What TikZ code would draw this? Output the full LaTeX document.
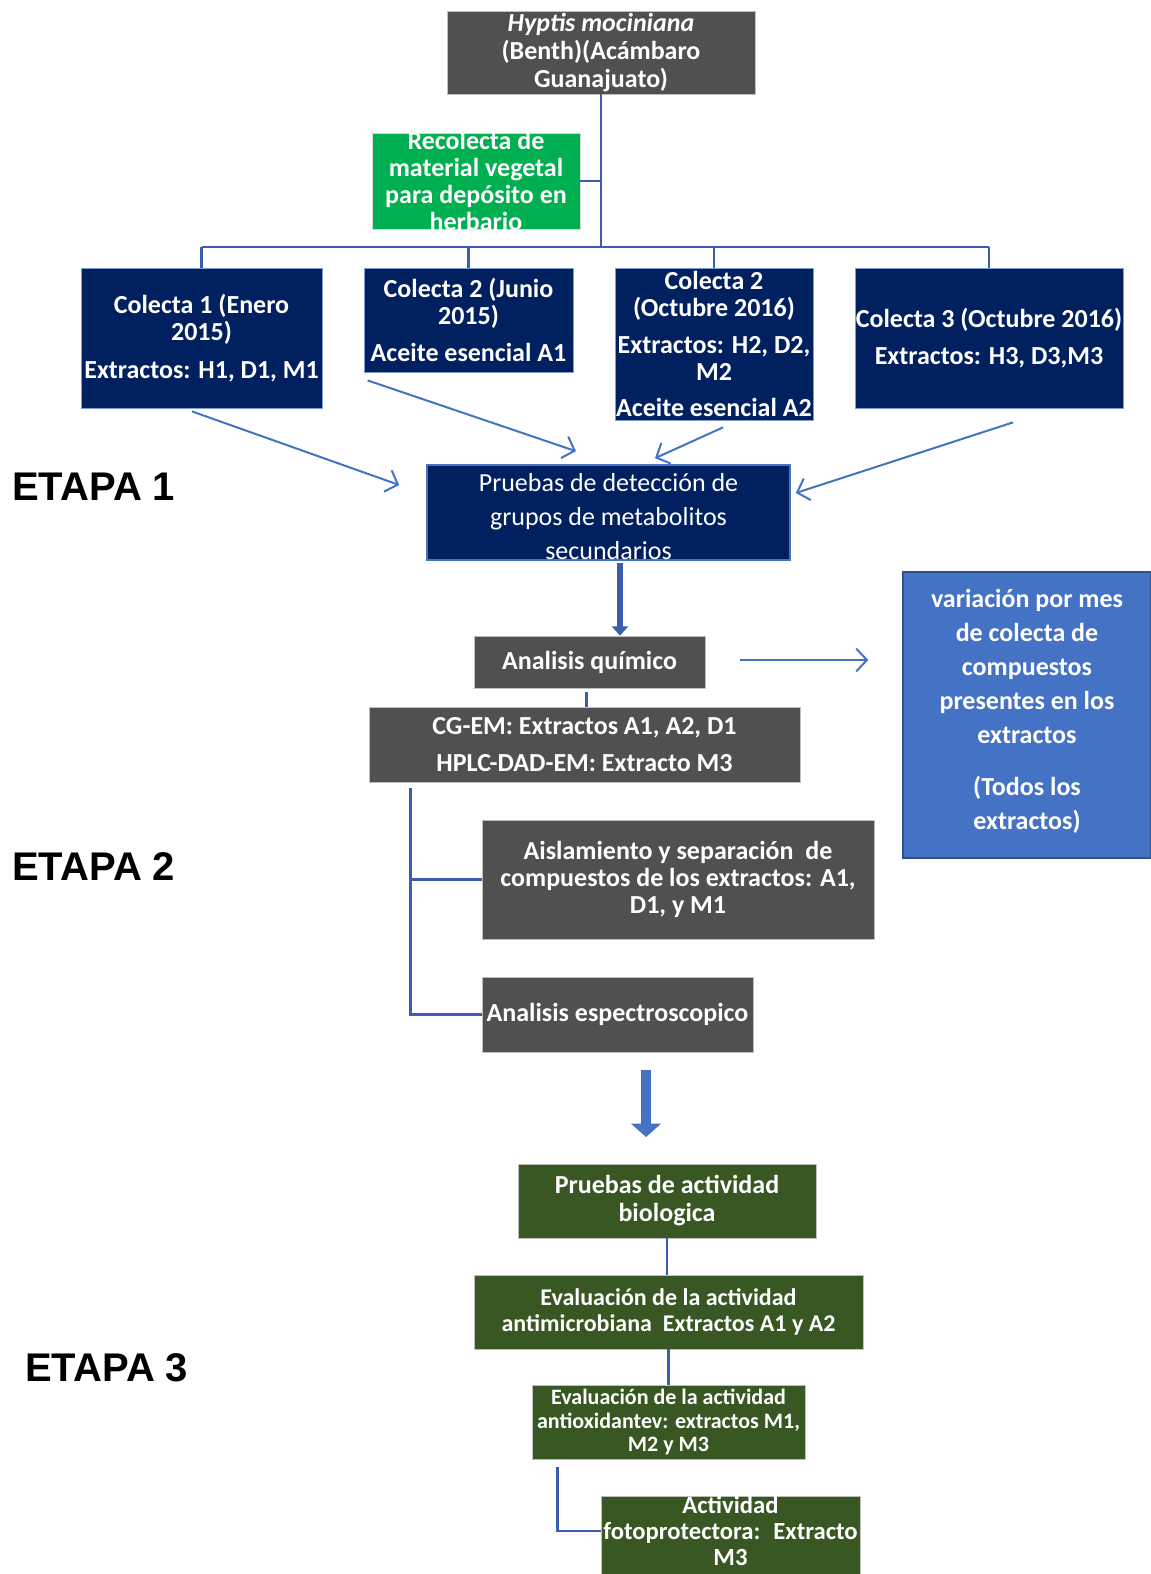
\documentclass[tikz,border=0pt]{standalone}
\usepackage{fontspec}
\setmainfont{Carlito}
\newfontfamily\arialf{Liberation Sans}
\usetikzlibrary{arrows.meta,calc}
\definecolor{gr}{HTML}{505050}
\definecolor{navy}{HTML}{002060}
\definecolor{bgreen}{HTML}{00B050}
\definecolor{dgreen}{HTML}{385723}
\definecolor{mblue}{HTML}{4472C4}
\definecolor{dblue}{HTML}{2F528F}
\definecolor{tblue}{HTML}{3A5DAE}
\newcommand\bx[7]{\pgfmathsetmacro\bxw{#4*0.75}\pgfmathsetmacro\bxh{#5*0.75}%
  \node[#6, minimum width=\bxw pt, minimum height=\bxh pt] (#1) at (#2,#3) {#7};}
\tikzset{
  base/.style={inner sep=0pt, align=center, text=white, font=\bfseries\fontsize{19.5}{20.25}\selectfont},
  graybox/.style={base, fill=gr, draw=black!25, line width=0.5pt},
  navybox/.style={base, fill=navy, draw=mblue!70, line width=0.6pt},
  greenbox/.style={base, fill=dgreen, draw=black!25, line width=0.5pt},
  tree/.style={draw=tblue, line width=2pt},
  thin arrow/.style={draw=mblue, line width=1.5pt, -{Straight Barb[length=8pt,width=17pt,line width=1.5pt]}},
  etapa/.style={anchor=west, inner sep=0pt, font=\arialf\bfseries\fontsize{30}{31}\selectfont}
}
\begin{document}
\begin{tikzpicture}[x=0.75pt,y=-0.75pt]
\useasboundingbox (0,0) rectangle (1151,1574);
% boxes
\bx{top}{601}{52.5}{308}{83}{graybox, font=\bfseries\fontsize{19.5}{21}\selectfont}{{\itshape Hyptis mociniana}\\(Benth)(Acámbaro\\Guanajuato)}
\bx{herb}{476}{181}{208}{96}{base, fill=bgreen, draw=black!15, line width=0.5pt}{}
\node[base] (herbt) at (herb) {Recolecta de\\material vegetal\\para depósito en\\herbario};
\bx{c1}{201.5}{338}{241}{140}{navybox}{Colecta 1 (Enero\\2015)\\[8pt]Extractos: H1, D1, M1}
\bx{c2}{468.5}{320}{209}{104}{navybox}{Colecta 2 (Junio\\2015)\\[8pt]Aceite esencial A1}
\bx{c3}{714}{344}{198}{152}{navybox}{}
\node[base] (c3t) at (c3) {Colecta 2\\(Octubre 2016)\\[7pt]Extractos: H2, D2,\\M2\\[7pt]Aceite esencial A2};
\bx{c4}{989}{338}{268}{140}{navybox}{Colecta 3 (Octubre 2016)\\[8pt]Extractos: H3, D3,M3}
\bx{pr}{608.5}{512.5}{363}{95}{navybox, draw=mblue, line width=1.2pt}{}
\node[base, font=\mdseries\fontsize{19.5}{25.5}\selectfont] (prt) at ($(pr)+(0,4)$) {Pruebas de detección de\\grupos de metabolitos\\secundarios};
\bx{aq}{589.5}{662}{231}{52}{graybox}{Analisis químico}
\bx{cg}{584.5}{744.5}{431}{75}{graybox, font=\bfseries\fontsize{19.5}{27.75}\selectfont}{CG-EM: Extractos A1, A2, D1\\HPLC-DAD-EM: Extracto M3}
\bx{var}{1027}{715}{248}{286}{base, fill=mblue, draw=dblue, line width=1.2pt}{}
\node[base, font=\bfseries\fontsize{19.5}{25.5}\selectfont] (vart) at ($(var)+(0,-4)$) {variación por mes\\de colecta de\\compuestos\\presentes en los\\extractos\\[13.5pt](Todos los\\extractos)};
\bx{ais}{678}{879.5}{392}{119}{graybox}{Aislamiento y separación \ de\\compuestos de los extractos: A1,\\D1, y M1}
\bx{ae}{617.5}{1014.5}{271}{75}{graybox}{Analisis espectroscopico}
\bx{pa}{667}{1201}{298}{74}{greenbox, font=\bfseries\fontsize{19.5}{21}\selectfont}{Pruebas de actividad\\biologica}
\bx{ea}{668.5}{1312}{389}{74}{greenbox, font=\bfseries\fontsize{18}{19.5}\selectfont}{Evaluación de la actividad\\antimicrobiana \ Extractos A1 y A2}
\bx{ao}{668.5}{1422}{273}{74}{greenbox, font=\bfseries\fontsize{16.5}{17.6}\selectfont}{Evaluación de la actividad\\antioxidantev: extractos M1,\\M2 y M3}
\bx{fp}{730.5}{1540}{259}{88}{greenbox}{}
\node[base, font=\bfseries\fontsize{18.5}{19.5}\selectfont] (fpt) at (730.5,1531) {Actividad\\fotoprotectora: \ Extracto\\M3};
% etapa labels
\node[etapa] (e1) at (12,487) {ETAPA 1};
\node[etapa] (e2) at (12,867) {ETAPA 2};
\node[etapa] (e3) at (25,1368) {ETAPA 3};
% tree
\coordinate (j) at (601,247);
\draw[tree] (top.south) -- (j);
\draw[tree] (herb.east) -- (herb.east -| j);
\draw[tree] (c1.north |- j) -- (c4.north |- j);
\foreach \n in {c1,c2,c3,c4} \draw[tree] (\n.north |- j) -- (\n.north);
% thin arrows to pruebas
\draw[thin arrow] ($(c1.south)+(-9.5,3)$) -- ($(pr.west)+(-27,-27.5)$);
\draw[thin arrow] ($(c2.south west)+(4,8)$) -- ($(pr.north)+(-32.5,-13)$);
\draw[thin arrow] ($(c3.south)+(9,7)$) -- ($(pr.north)+(46.5,-6)$);
\draw[thin arrow] ($(c4.south)+(24,14)$) -- ($(pr.east)+(5,-19.5)$);
% thick arrow pruebas -> analisis
\coordinate (pa1) at ($(pr.south)+(11.5,2)$);
\draw[draw=tblue, line width=4pt, -{Triangle[length=7pt,width=12pt]}] (pa1) -- (pa1 |- aq.north);
% analisis -> variacion
\coordinate (av1) at ($(aq.east)+(35,-2)$);
\coordinate (av2) at ($(aq.east)+(163,-2)$);
\draw[thin arrow] (av1) -- (av2);
% analisis -> cg
\coordinate (ac1) at ($(aq.south)+(-3,4)$);
\draw[tree] (ac1) -- (ac1 |- cg.north);
% bracket
\coordinate (bk) at ($(cg.south west)+(42,6)$);
\draw[tree] (bk) |- (ae.west);
\draw[tree] (bk |- ais.west) -- (ais.west);
% block arrow
\coordinate (ba1) at (646,1070);
\coordinate (ba2) at (646,1137);
\draw[draw=mblue, line width=7pt, -{Triangle[length=10pt,width=22pt]}] (ba1) -- (ba2);
% green chain
\draw[tree] (pa.south) -- (pa.south |- ea.north);
\draw[tree] (ea.south) -- (ao.north);
\coordinate (ag) at ($(ao.south west)+(26,8)$);
\draw[tree] (ag) |- (fpt.west -| fp.west);
\end{tikzpicture}
\end{document}
